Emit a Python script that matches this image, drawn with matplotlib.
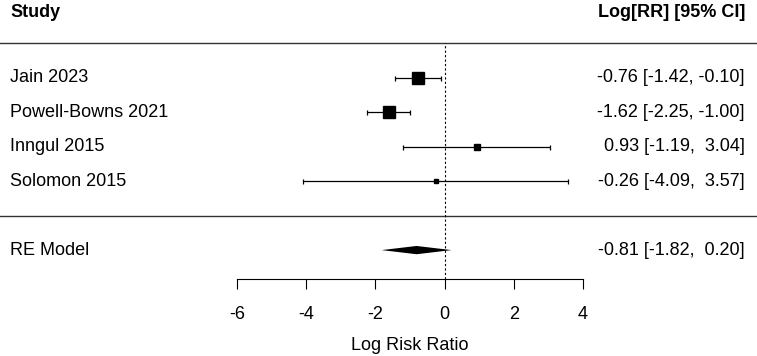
import numpy as np
import matplotlib
matplotlib.use("Agg")
import matplotlib.pyplot as plt

plt.rcParams['font.family'] = ['Liberation Sans', 'DejaVu Sans']

studies = ["Jain 2023", "Powell-Bowns 2021", "Inngul 2015", "Solomon 2015"]
est = [-0.76, -1.62, 0.93, -0.26]
lo = [-1.42, -2.25, -1.19, -4.09]
hi = [-0.10, -1.00, 3.04, 3.57]
sq = [8.6, 9.0, 5.0, 2.9]  # square size in points (weights)
labels = ["-0.76 [-1.42, -0.10]", "-1.62 [-2.25, -1.00]",
          "0.93 [-1.19,  3.04]", "-0.26 [-4.09,  3.57]"]
re_est, re_lo, re_hi = -0.81, -1.82, 0.20
re_label = "-0.81 [-1.82,  0.20]"
xticks = [-6, -4, -2, 0, 2, 4]

fig = plt.figure(figsize=(7.57, 3.56), dpi=100)
ax = fig.add_axes([0, 0, 1, 1])
ax.set_xlim(-12.85, 9.03)
ax.set_ylim(-4.07, 6.25)

rows = np.arange(len(studies), 0, -1)
fs = 13

for y, e, l, h, s, name, lab in zip(rows, est, lo, hi, sq, studies, labels):
    ax.errorbar(e, y, xerr=[[e - l], [h - e]], fmt='none', ecolor='black',
                elinewidth=0.9, capsize=1.8, capthick=0.9)
    ax.plot(e, y, marker='s', ms=s, color='black', mec='black', ls='none')
    ax.text(-12.55, y, name, ha='left', va='center', fontsize=fs)
    ax.text(8.68, y, lab, ha='right', va='center', fontsize=fs)

# summary diamond
hh = 0.12
ax.fill([re_lo, re_est, re_hi, re_est], [-1, -1 + hh, -1, -1 - hh],
        color='black', lw=0)
ax.text(-12.55, -1, "RE Model", ha='left', va='center', fontsize=fs)
ax.text(8.68, -1, re_label, ha='right', va='center', fontsize=fs)

# headers
ax.text(-12.55, 5.9, "Study", ha='left', va='center', fontsize=fs, fontweight='bold')
ax.text(8.68, 5.9, "Log[RR] [95% CI]", ha='right', va='center', fontsize=fs,
        fontweight='bold')

ax.axhline(5, color='#333333', lw=1)
ax.axhline(0, color='#333333', lw=1)
ax.plot([0, 0], [-1.84, 5], color='black', ls=(0, (2, 2)), lw=0.8)

for sp in ['top', 'left', 'right']:
    ax.spines[sp].set_visible(False)
ax.spines['bottom'].set_position(('data', -1.84))
ax.spines['bottom'].set_bounds(-6, 4)
ax.spines['bottom'].set_linewidth(0.8)
ax.set_xticks(xticks)
ax.set_xticklabels([str(t) for t in xticks])
ax.tick_params(axis='x', direction='out', length=7.5, width=0.8, pad=12,
               labelsize=fs)
ax.set_yticks([])
ax.text(-1, -3.78, "Log Risk Ratio", ha='center', va='center', fontsize=fs)

fig.savefig("out.png", dpi=100)
